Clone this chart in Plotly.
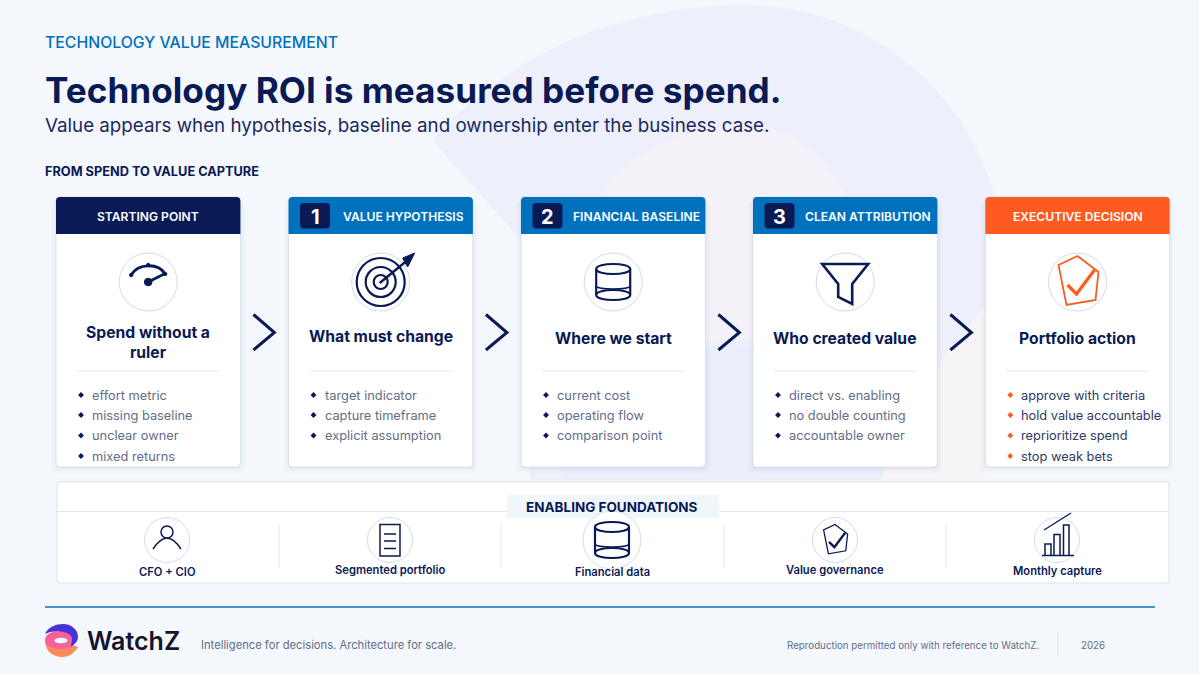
import re
import plotly.graph_objects as go

# text content
eyebrow = "TECHNOLOGY VALUE MEASUREMENT"
headline = "Technology ROI is measured before spend."
subhead = "Value appears when hypothesis, baseline and ownership enter the business case."
section = "FROM SPEND TO VALUE CAPTURE"

card_tags = ["STARTING POINT", "VALUE HYPOTHESIS", "FINANCIAL BASELINE", "CLEAN ATTRIBUTION", "EXECUTIVE DECISION"]
card_steps = ["", "1", "2", "3", ""]
card_titles = ["Spend without a<br>ruler", "What must change", "Where we start", "Who created value", "Portfolio action"]
card_bullets = [
    ["effort metric", "missing baseline", "unclear owner", "mixed returns"],
    ["target indicator", "capture timeframe", "explicit assumption"],
    ["current cost", "operating flow", "comparison point"],
    ["direct vs. enabling", "no double counting", "accountable owner"],
    ["approve with criteria", "hold value accountable", "reprioritize spend", "stop weak bets"],
]
foundation_title = "ENABLING FOUNDATIONS"
foundations = ["CFO + CIO", "Segmented portfolio", "Financial data", "Value governance", "Monthly capture"]
tagline = "Intelligence for decisions. Architecture for scale."
repro = "Reproduction permitted only with reference to WatchZ."
year = "2026"

# colours
NAVY = "#0a1a55"
BLUE = "#0071bc"
ORANGE = "#ff5a1f"
GREY = "#626d88"
RING = "#d3dcea"
FONT = "Inter"
header_cols = [NAVY, BLUE, BLUE, BLUE, ORANGE]

# layout, in page pixels
card_left = [56, 288.5, 521, 753, 985.3]
card_w = 184.4
card_top, head_bot, card_bot = 197, 234, 467
title_y = [342, 336, 338, 338, 338]
bullet_y = [395, 415, 435.5, 456]
found_x = [167, 390, 612, 835, 1057]
found_label_y = [572, 570, 572, 570, 571]
found_div_x = [279, 501, 724, 946]

shapes = []


def add_path(d, fill="rgba(0,0,0,0)", line=None, width=0):
    shapes.append(dict(type="path", path=d, fillcolor=fill, layer="below",
                       line=dict(color=line or "rgba(0,0,0,0)", width=width)))


def round_rect(x0, y0, x1, y1, r=4, top_only=False):
    b = 0 if top_only else r
    return (f"M {x0+r} {y0} L {x1-r} {y0} Q {x1} {y0} {x1} {y0+r} L {x1} {y1-b} Q {x1} {y1} {x1-b} {y1} "
            f"L {x0+b} {y1} Q {x0} {y1} {x0} {y1-b} L {x0} {y0+r} Q {x0} {y0} {x0+r} {y0} Z")


def icon(d, cx, cy, s=1.0):
    # d is written around 0,0 - letters stay, numbers go x then y
    out, i = [], 0
    for tok in re.findall(r"[A-Z]|-?[\d.]+", d):
        if tok.isalpha():
            out.append(tok)
            i = 0
        else:
            out.append(str(round(float(tok) * s + (cy if i % 2 else cx), 2)))
            i += 1
    return " ".join(out)


def ellipse(cx, cy, rx, ry):
    return (f"M {cx-rx} {cy} C {cx-rx} {cy-ry*1.33} {cx+rx} {cy-ry*1.33} {cx+rx} {cy} "
            f"C {cx+rx} {cy+ry*1.33} {cx-rx} {cy+ry*1.33} {cx-rx} {cy} Z")


def circle(cx, cy, r, fill="white", line=RING, width=1):
    shapes.append(dict(type="circle", x0=cx-r, x1=cx+r, y0=cy-r, y1=cy+r, fillcolor=fill, layer="below",
                       line=dict(color=line, width=width)))


def draw_gauge(cx, cy, s=1.0):
    add_path(icon("M -17 -7 C -10 -19 10 -19 17 -8", cx, cy, s), line=NAVY, width=3)
    add_path(icon("M 0 0 L 16 -8", cx, cy, s), line=NAVY, width=2.8)
    circle(cx, cy, 3.8*s, NAVY, NAVY)
    for px, py in [(-17, -7), (0, -17), (17, -8)]:
        circle(cx+px*s, cy+py*s, 1.7*s, NAVY, NAVY)


def draw_target(cx, cy, s=1.0):
    for r in (24, 15, 7):
        circle(cx, cy, r*s, "rgba(0,0,0,0)", NAVY, 2.2)
    add_path(icon("M -1 1 L 27 -22", cx, cy, s), line=NAVY, width=2.4)
    add_path(icon("M 34 -29 L 22 -24 L 24 -20 L 27 -15 Z", cx, cy, s), fill=NAVY, line=NAVY, width=1)


def draw_db(cx, cy, s=1.0):
    w = 2.2
    add_path(icon(ellipse(0, -13, 17, 5), cx, cy, s), line=NAVY, width=w)
    add_path(icon(ellipse(0, 13, 17, 5), cx, cy, s), line=NAVY, width=w)
    add_path(icon("M -17 -13 L -17 13 M 17 -13 L 17 13", cx, cy, s), line=NAVY, width=w)
    add_path(icon("M -17 4 C -17 8 17 8 17 4", cx, cy, s), line=NAVY, width=w-0.6)


def draw_funnel(cx, cy, s=1.0):
    add_path(icon("M -23 -18 L 23 -18 L 7 2 L 7 22 L -7 15 L -7 2 Z", cx, cy, s), line=NAVY, width=2.6)


def draw_shield(cx, cy, s=1.0, col=ORANGE, w1=1.8, w2=3.2):
    add_path(icon("M 0 -26 L 21 -10 L 18 18 L -11 23 L -19 -17 Z", cx, cy, s), line=col, width=w1)
    add_path(icon("M -10 3 L -1 12 L 17 -12", cx, cy, s), line=col, width=w2)


def draw_person(cx, cy):
    circle(cx, cy-8, 6, "rgba(0,0,0,0)", NAVY, 1.5)
    add_path(icon("M -14 9 C -8 0 -3 -2 0 -2 C 3 -2 8 0 14 9", cx, cy), line=NAVY, width=1.5)


def draw_doc(cx, cy):
    add_path(icon("M -10 -15.5 L 10 -15.5 L 10 16 L -10 16 Z", cx, cy), line=NAVY, width=1.5)
    add_path(icon("M -6 -6 L 6 -6 M -6 1 L 6 1 M -6 8.5 L 6 8.5", cx, cy), line=NAVY, width=1.5)


def draw_bars(cx, cy):
    add_path(icon("M -13 -10 L 14 -27", cx, cy), line=NAVY, width=1.3)
    add_path(icon("M -12 15 L -12 4 L -6 4 L -6 15 M -3 15 L -3 -5.5 L 3 -5.5 L 3 15 M 6.5 15 L 6.5 -15 L 12 -15 L 12 15",
                  cx, cy), line=NAVY, width=1.5)
    add_path(icon("M -15 15.5 L 17 15.5", cx, cy), line=NAVY, width=1.5)


# page background and watermark
shapes.append(dict(type="rect", x0=0, x1=1199, y0=0, y1=674, fillcolor="#f4f8fd", line_width=0, layer="below"))
add_path("M 432 140 C 520 45 630 5 745 5 C 870 5 975 95 1000 215 L 1000 295 L 985 307 L 940 363 L 880 480 L 530 480 "
         "L 530 250 Z", fill="#edf0fa")
add_path("M 578 240 C 600 170 660 128 740 125 C 800 125 850 170 855 240 L 855 340 L 640 340 Z", fill="#f4f1f8")
add_path("M 600 338 L 940 363 L 880 480 L 560 480 Z", fill="#e9eef9")
add_path("M 985 307 L 985 480 L 880 480 L 940 363 Z", fill="#f6f4f6")

# cards
annotations = []


def label(text, x, y, size, color=NAVY, weight=400, anchor="center"):
    # annotation boxes keep a small inner pad, so left aligned text is pulled back
    if anchor == "left":
        x = x - 2
    annotations.append(dict(text=text, x=x, y=y, xref="x", yref="y", showarrow=False, xanchor=anchor, yanchor="middle",
                            align=anchor, font=dict(family=FONT, size=size, color=color, weight=weight)))


bul_x, bul_y, bul_col = [], [], []
for i, left in enumerate(card_left):
    right = left + card_w
    mid = left + card_w / 2
    for k, a in zip((5, 3, 1), (0.012, 0.02, 0.03)):
        add_path(round_rect(left-k, card_top+k, right+k, card_bot+k+1, 5), fill=f"rgba(10,26,85,{a})")
    add_path(round_rect(left, card_top, right, card_bot, 4), fill="white", line="#dbe3ef", width=1)
    add_path(round_rect(left, card_top, right, head_bot, 4, top_only=True), fill=header_cols[i])
    if card_steps[i]:
        add_path(round_rect(left+11.5, 203, left+41.5, 228.5, 4), fill=NAVY)
        label(card_steps[i], left+26.5, 216.5, 20, "white", 700)
        label(card_tags[i], left+115, 216, 12.1, "white", 600)
    else:
        label(card_tags[i], mid, 216, 12.1, "white", 600)
    circle(mid, 282, 29)
    shapes.append(dict(type="line", x0=left+21, x1=left+163, y0=371, y1=371, layer="below",
                       line=dict(color="#e3e8f1", width=1)))
    label(card_titles[i], mid, title_y[i], 15.7, NAVY, 700)
    txt_col = "#2d3a63" if i == 4 else GREY
    for j, b in enumerate(card_bullets[i]):
        bul_x.append(left+25)
        bul_y.append(bullet_y[j])
        bul_col.append(ORANGE if i == 4 else NAVY)
        label(b, left+36, bullet_y[j], 12.8, txt_col, 400, "left")

for left, d in zip(card_left, (draw_gauge, draw_target, draw_db, draw_funnel, draw_shield)):
    d(left + card_w/2, 282)

# chevrons between the cards
for left in card_left[:-1]:
    x = left + card_w + 13
    add_path(f"M {x} 314.5 L {x+21} 332.5 L {x} 350", line=NAVY, width=3)

# foundations panel
add_path(round_rect(57, 482, 1169, 583, 2), fill="white", line="#d9e2ef", width=1)
shapes.append(dict(type="line", x0=57, x1=1169, y0=511.5, y1=511.5, layer="below", line=dict(color="#dfe6f1", width=1)))
shapes.append(dict(type="rect", x0=507, x1=719, y0=495, y1=518, fillcolor="#f1f6fb", line_width=0, layer="below"))
for x in found_div_x:
    shapes.append(dict(type="line", x0=x, x1=x, y0=524, y1=568, layer="below", line=dict(color="#e3e8f1", width=1)))
for i, x in enumerate(found_x):
    circle(x, 540, 29 if i == 2 else 22.5)
    label(foundations[i], x, found_label_y[i], 11.2, NAVY, 600)
label(foundation_title, 612, 507, 13.5, NAVY, 700)
draw_person(found_x[0], 540)
draw_doc(found_x[1], 540)
draw_db(found_x[2], 540)
draw_shield(found_x[3], 540, 0.6, NAVY, 1.3, 2.4)
draw_bars(found_x[4], 540)

# header text
label(eyebrow, 45, 42, 15.8, BLUE, 500, "left")
label(headline, 45, 90, 35.2, NAVY, 700, "left")
label(subhead, 45, 125, 18.75, "#1b2a5e", 400, "left")
label(section, 45, 171, 12.75, NAVY, 700, "left")

# footer
shapes.append(dict(type="line", x0=45, x1=1155, y0=607, y1=607, layer="below", line=dict(color="#0b74b8", width=1.4)))
add_path("M 45 640 C 45 652 54 657 62 657 C 70 657 75 652 78 647 L 70 644 C 62 650 50 648 45 640 Z", fill="#fb8a5c")
add_path(ellipse(60, 640, 15, 9), fill="#f7619a")
add_path("M 45 634 C 48 627 56 624 63 624 C 72 624 78 630 78 637 C 78 641 75 644 71 647 "
         "C 71 641 75 637 67 633 C 60 630 50 631 45 634 Z", fill="#4733d6")
add_path(ellipse(61, 640.5, 6.5, 2.8), fill="#f4f8fd")
label("WatchZ", 87, 641, 25, "#14142e", 600, "left")
label(tagline, 201, 645, 11.2, GREY, 400, "left")
label(repro, 787, 645, 9.75, GREY, 400, "left")
shapes.append(dict(type="line", x0=1058, x1=1058, y0=632, y1=656, layer="below", line=dict(color="#dde3ec", width=1)))
label(year, 1081, 645, 9.75, GREY, 400, "left")

fig = go.Figure(go.Scatter(x=bul_x, y=bul_y, mode="markers", hoverinfo="skip",
                           marker=dict(symbol="diamond", size=4.5, color=bul_col), cliponaxis=False))
fig.update_layout(width=1199, height=674, margin=dict(l=0, r=0, t=0, b=0), showlegend=False,
                  paper_bgcolor="#f4f8fd", plot_bgcolor="#f4f8fd", shapes=shapes, annotations=annotations)
fig.update_xaxes(range=[0, 1199], visible=False, fixedrange=True)
fig.update_yaxes(range=[674, 0], visible=False, fixedrange=True)
fig.write_html("out.html", config=dict(displayModeBar=False),
               post_script="document.body.style.margin='0';document.body.style.overflow='hidden';")
